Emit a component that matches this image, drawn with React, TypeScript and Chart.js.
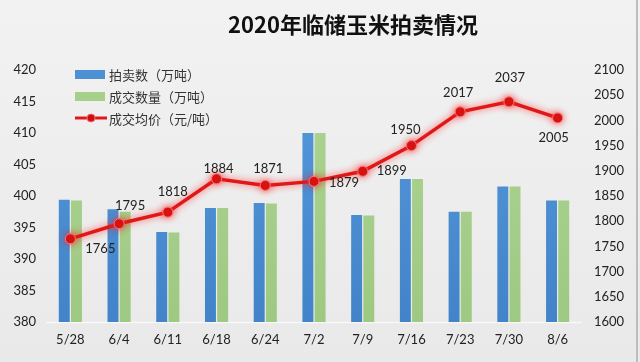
import React, { useEffect, useRef } from "react";
import { Chart, registerables } from "chart.js";

Chart.register(...registerables);

const categories = ["5/28", "6/4", "6/11", "6/18", "6/24", "7/2", "7/9", "7/16", "7/23", "7/30", "8/6"];
const auctionQty = [399.4, 397.9, 394.3, 398.1, 398.9, 410.0, 397.0, 402.7, 397.5, 401.5, 399.3];
const dealQty = [399.3, 397.5, 394.2, 398.1, 398.8, 410.0, 396.9, 402.7, 397.5, 401.5, 399.3];
const avgPrice = [1765, 1795, 1818, 1884, 1871, 1879, 1899, 1950, 2017, 2037, 2005];
const leftTicks = [380, 385, 390, 395, 400, 405, 410, 415, 420];
const rightTicks = [1600, 1650, 1700, 1750, 1800, 1850, 1900, 1950, 2000, 2050, 2100];
const seriesNames = ["拍卖数（万吨）", "成交数量（万吨）", "成交均价（元/吨）"];
const titleText = "2020年临储玉米拍卖情况";
// label placement offsets (dx, dy) relative to each point
const labelOffsets: [number, number][] = [
  [30, 10], [11, -18], [5, -20], [2, -10], [3, -17], [30, 1], [29, 0], [-6, -16], [-2, -19], [1, -24], [-4, 20],
];

const BLUE = "#4e90d4";
const GREEN = "#a6cf8a";
const RED = "#e01818";
const FONT = "Lato, 'Noto Sans', sans-serif";

export default function App() {
  const ref = useRef<HTMLCanvasElement>(null);
  useEffect(() => {
    const canvas = ref.current!;
    const ctx0 = canvas.getContext("2d")!;
    const blueGrad = ctx0.createLinearGradient(0, 0, 0, 362);
    blueGrad.addColorStop(0, "#5b9fe0");
    blueGrad.addColorStop(1, "#3f80c6");
    const greenGrad = ctx0.createLinearGradient(0, 0, 0, 362);
    greenGrad.addColorStop(0, "#b0d897");
    greenGrad.addColorStop(1, "#9cc780");

    const bgPlugin = {
      id: "bg",
      beforeDraw(chart: any) {
        const c = chart.ctx;
        const g = c.createLinearGradient(0, 0, 0, chart.height);
        g.addColorStop(0, "#f2f2f2");
        g.addColorStop(1, "#e9e9e9");
        c.save();
        c.fillStyle = g;
        c.fillRect(0, 0, chart.width, chart.height);
        c.strokeStyle = "#bdbdbd";
        c.lineWidth = 2;
        c.beginPath();
        c.moveTo(637, 0);
        c.lineTo(637, chart.height);
        c.stroke();
        const a = chart.chartArea;
        c.strokeStyle = "#f8f8f8";
        c.lineWidth = 1.5;
        c.beginPath();
        c.moveTo(a.left, a.bottom + 0.5);
        c.lineTo(a.right, a.bottom + 0.5);
        c.stroke();
        c.restore();
      },
    };

    const glowPlugin = {
      id: "glow",
      beforeDatasetDraw(chart: any, args: any) {
        if (args.index === 2) {
          chart.ctx.save();
          chart.ctx.shadowColor = "rgba(255,40,40,0.75)";
          chart.ctx.shadowBlur = 7;
        }
      },
      afterDatasetDraw(chart: any, args: any) {
        if (args.index === 2) chart.ctx.restore();
      },
    };

    const overlayPlugin = {
      id: "overlay",
      afterDraw(chart: any) {
        const c = chart.ctx;
        c.save();
        // title
        c.fillStyle = "#111";
        c.font = "bold 22px 'Noto Sans CJK SC', sans-serif";
        c.textAlign = "center";
        c.textBaseline = "middle";
        c.fillText(titleText, 353, 25);
        // data labels
        const meta = chart.getDatasetMeta(2);
        c.font = "13px " + FONT;
        c.fillStyle = "#222";
        meta.data.forEach((pt: any, i: number) => {
          const [dx, dy] = labelOffsets[i];
          c.fillText(String(avgPrice[i]), pt.x + dx, pt.y + dy);
        });
        // legend
        const lx = 75, lw = 30;
        const rows = [74, 96, 118];
        c.textAlign = "left";
        c.font = "13px 'Noto Sans CJK SC', serif";
        c.fillStyle = BLUE;
        c.fillRect(lx, rows[0] - 4, lw, 9);
        c.fillStyle = GREEN;
        c.fillRect(lx, rows[1] - 4, lw, 9);
        c.strokeStyle = RED;
        c.lineWidth = 3;
        c.beginPath();
        c.moveTo(lx, rows[2]);
        c.lineTo(lx + lw + 2, rows[2]);
        c.stroke();
        c.beginPath();
        c.arc(lx + lw / 2 + 1, rows[2], 4, 0, Math.PI * 2);
        c.fillStyle = "#d01010";
        c.fill();
        c.strokeStyle = "#f07070";
        c.lineWidth = 1;
        c.stroke();
        c.fillStyle = "#333";
        seriesNames.forEach((n, i) => c.fillText(n, lx + lw + 4, rows[i] + 1));
        c.restore();
      },
    };

    const chart = new Chart(canvas, {
      type: "bar",
      data: {
        labels: categories,
        datasets: [
          {
            type: "bar",
            label: seriesNames[0],
            data: auctionQty,
            backgroundColor: blueGrad,
            yAxisID: "y",
            barPercentage: 0.9,
            categoryPercentage: 0.5,
            order: 2,
          },
          {
            type: "bar",
            label: seriesNames[1],
            data: dealQty,
            backgroundColor: greenGrad,
            yAxisID: "y",
            barPercentage: 0.9,
            categoryPercentage: 0.5,
            order: 2,
          },
          {
            type: "line",
            label: seriesNames[2],
            data: avgPrice,
            yAxisID: "y1",
            borderColor: RED,
            borderWidth: 3.5,
            pointRadius: 5,
            pointBackgroundColor: "#d41010",
            pointBorderColor: "#f27a7a",
            pointBorderWidth: 1,
            tension: 0,
            order: 1,
          } as any,
        ],
      },
      options: {
        responsive: false,
        animation: false,
        layout: { padding: { top: 70, left: 0, right: 0, bottom: 0 } },
        plugins: {
          legend: { display: false },
          title: { display: false },
          tooltip: { enabled: false },
        },
        scales: {
          x: {
            grid: { display: false, drawTicks: false },
            border: { display: false },
            ticks: { color: "#222", font: { family: FONT, size: 13 }, padding: 10, maxRotation: 0, autoSkip: false },
            afterFit(s: any) { s.height = 40; },
          },
          y: {
            position: "left",
            min: 380,
            max: 420,
            afterBuildTicks(s: any) { s.ticks = leftTicks.map((v) => ({ value: v })); },
            grid: { display: false, drawTicks: false },
            border: { display: false },
            ticks: { color: "#222", font: { family: FONT, size: 13 }, padding: 10, callback: (v: any) => String(v) },
            afterFit(s: any) { s.width = 46; },
          },
          y1: {
            position: "right",
            min: 1600,
            max: 2100,
            afterBuildTicks(s: any) { s.ticks = rightTicks.map((v) => ({ value: v })); },
            grid: { display: false, drawTicks: false },
            border: { display: false },
            ticks: { color: "#222", font: { family: FONT, size: 13 }, padding: 12, callback: (v: any) => String(v) },
            afterFit(s: any) { s.width = 58; },
          },
        },
      },
      plugins: [bgPlugin, glowPlugin, overlayPlugin],
    });
    return () => chart.destroy();
  }, []);
  return (
    <div style={{ position: "fixed", left: 0, top: 0, width: 640, height: 362 }}>
      <canvas ref={ref} width={640} height={362} style={{ display: "block" }} />
    </div>
  );
}
